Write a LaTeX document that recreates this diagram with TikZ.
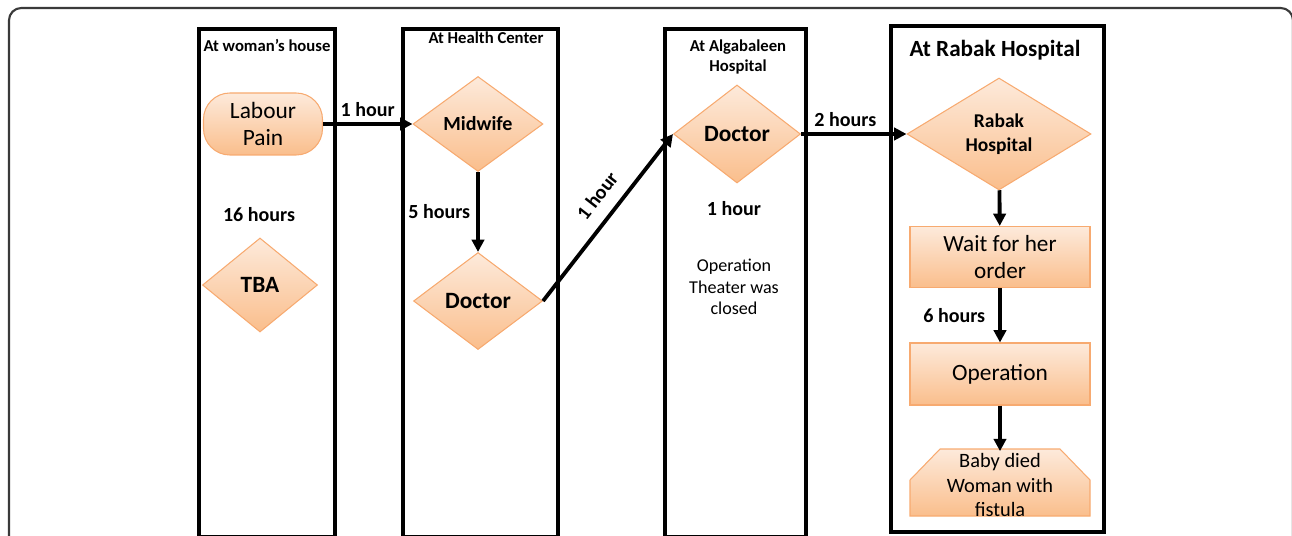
\documentclass[tikz,border=0pt]{standalone}
\usepackage{fontspec}
\setmainfont{Carlito}
\usetikzlibrary{shapes.geometric,arrows.meta,calc}
\definecolor{boxtop}{HTML}{FDEADB}
\definecolor{boxbot}{HTML}{FABE8C}
\definecolor{boxline}{HTML}{F7AA70}
\definecolor{frameline}{HTML}{3A3A3A}

\begin{document}
\begin{tikzpicture}
[x=0.02cm,y=0.02cm,>={Triangle[length=7pt,width=7pt]},
lane/.style={draw,line width=1.8pt},
box/.style={draw=boxline,line width=0.6pt,top color=boxtop,bottom color=boxbot,inner sep=0pt,align=center},
dia/.style={box,diamond,font=\bfseries\fontsize{13.3}{15}\selectfont},
flow/.style={->,line width=2.2pt},
hrs/.style={font=\bfseries\fontsize{11.4}{13}\selectfont},
title/.style={font=\bfseries\fontsize{9.5}{11.3}\selectfont,align=center},]

\def\pix{0.02cm}

\path[use as bounding box,clip] (0,0) rectangle (1292,535);

%Outer frame
\draw[frameline,line width=1.2pt,rounded corners=7pt] (9,-20) rectangle (1293,527);

%Lanes
\draw[lane] (199,-2) rectangle (335,506);
\draw[lane] (403,-2) rectangle (558,506);
\draw[lane] (665,-2) rectangle (806,506);
\draw[lane,line width=2.1pt] (891,3) rectangle (1104,509);

%Lane titles
\node (house) at (267,490)[title] {At woman's house};
\node (center) at (486,497)[title] {At Health Center};
\node (alga) at (738,478)[title] {At Algabaleen\\Hospital};
\node (rabakt) at (995,485)[title,font=\bfseries\fontsize{13.2}{15}\selectfont] {At Rabak Hospital};

%Steps
\node (pain) at (263,411)[box,rounded corners=15pt,minimum width=119*\pix,minimum height=62*\pix,font=\fontsize{13.3}{15.3}\selectfont] {Labour\\Pain};
\node (tba) at (260,250)[dia,minimum width=115*\pix,minimum height=94*\pix] {TBA};
\node (midwife) at (478,411)[dia,minimum width=130*\pix,minimum height=95*\pix,font=\bfseries\fontsize{11.4}{13}\selectfont] {Midwife};
\node (doc1) at (478,234)[dia,minimum width=129*\pix,minimum height=97*\pix] {Doctor};
\node (doc2) at (737,401)[dia,minimum width=127*\pix,minimum height=98*\pix] {Doctor};
\node (rabak) at (999,401)[dia,minimum width=184*\pix,minimum height=112*\pix,font=\bfseries\fontsize{11.1}{13.6}\selectfont] {Rabak\\Hospital};
\node (wait) at (1000,278)[box,minimum width=180*\pix,minimum height=61*\pix,font=\fontsize{13.2}{15.9}\selectfont] {Wait for her\\order};
\node (oper) at (1000,161)[box,minimum width=180*\pix,minimum height=62*\pix,font=\fontsize{13.3}{15.9}\selectfont] {Operation};
\shade[box] (910,19) -- (910,55) -- (940,86) -- (1060,86) -- (1090,55) -- (1090,19) -- cycle;
\node (baby) at (1000,50)[minimum width=180*\pix,minimum height=67*\pix,align=center,inner sep=0pt,font=\fontsize{11.6}{14.2}\selectfont] {Baby died\\Woman with\\fistula};

%Waiting times
\node (wait16) at (259,320)[hrs] {16 hours};
\node (wait1) at (734,326)[hrs] {1 hour};
\node (closed) at (734,248)[align=center,font=\fontsize{10.3}{12.2}\selectfont] {Operation\\Theater was\\closed};

%Connectors
\draw[flow] (pain) -- node[hrs,above]{1 hour} (midwife);
\draw[flow] (midwife) -- node[hrs,left]{5 hours} (doc1);
\draw[flow] (doc1.east) -- node[hrs,sloped,above=4pt,pos=0.55]{1 hour} (doc2.west);
\draw[flow] (doc2) -- node[hrs,above,pos=0.42]{2 hours} (rabak);
\draw[flow] (rabak) -- (wait);
\draw[flow] (wait) -- node[hrs,left,xshift=-4pt]{6 hours} (oper);
\draw[flow] (oper) -- (baby);

\end{tikzpicture}
\end{document}
